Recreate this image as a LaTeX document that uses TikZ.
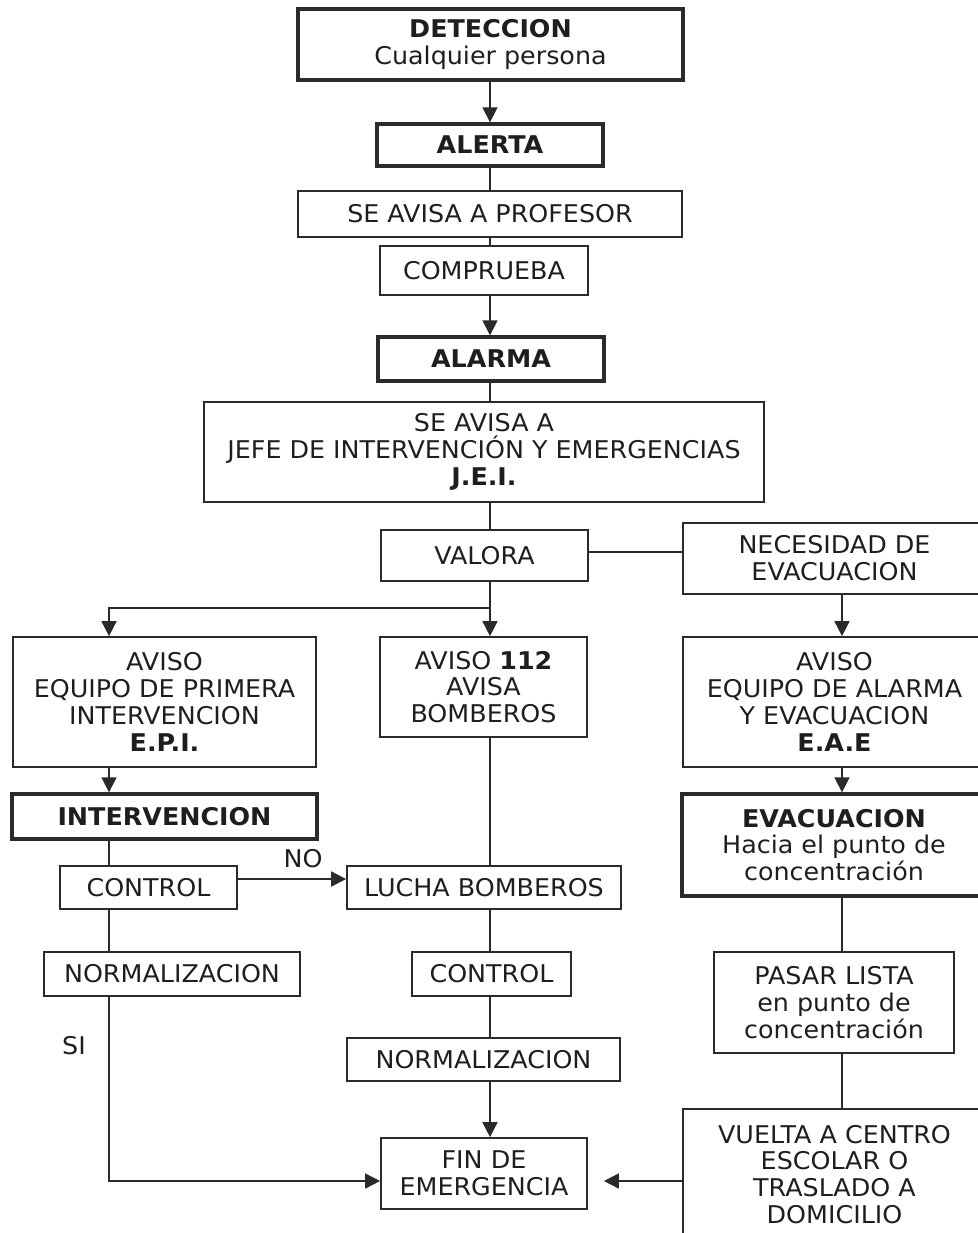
\documentclass[tikz,border=0pt]{standalone}
\usepackage{fontspec}
\setmainfont{DejaVu Sans}[FakeStretch=1.04]
\usetikzlibrary{arrows.meta}
\definecolor{ink}{HTML}{1E1E1E}
\definecolor{rule}{HTML}{2A2A2A}
\begin{document}
\begin{tikzpicture}[x=0.5pt,y=-0.5pt,
  box/.style={draw=rule, line width=0.85pt, rectangle, inner sep=0pt, align=center,
              text=ink, font=\fontsize{12.2}{13.4}\selectfont},
  keybox/.style={box, line width=1.7pt},
  link/.style={draw=rule, line width=0.85pt},
  arrow/.style={link, -{Triangle[length=7.5pt,width=7.5pt]}},
  tag/.style={text=ink, font=\fontsize{12.2}{13.4}\selectfont, inner sep=0pt}]
\useasboundingbox (0,0) rectangle (978,1233);
\clip (0,0) rectangle (978,1233);

% column guides
\coordinate (lcol) at (109,0);
\coordinate (spine) at (490,0);
\coordinate (rcol) at (842,0);
\coordinate (split) at (490,608);
\coordinate (finrow) at (0,1181);

% central chain
\node[keybox, minimum width=192.5pt, minimum height=35.5pt] (det) at (490.5,44.5)
  {\textbf{DETECCION}\\Cualquier persona};
\node[keybox, minimum width=113pt, minimum height=21pt] (alerta) at (490,145) {\textbf{ALERTA}};
\node[box, minimum width=192pt, minimum height=23pt] (prof) at (490,214) {SE AVISA A PROFESOR};
\node[box, minimum width=104pt, minimum height=24.5pt] (comp) at (484,270.5) {COMPRUEBA};
\node[keybox, minimum width=113pt, minimum height=22pt] (alarma) at (491,359) {\textbf{ALARMA}};
\node[box, minimum width=280pt, minimum height=50pt] (jei) at (484,452)
  {SE AVISA A\\JEFE DE INTERVENCIÓN Y EMERGENCIAS\\\textbf{J.E.I.}};
\node[box, minimum width=103.5pt, minimum height=25.5pt] (valora) at (484.5,555.5) {VALORA};
\node[box, minimum width=151.5pt, minimum height=35.5pt] (neces) at (834.5,558.5)
  {NECESIDAD DE\\EVACUACION};

% left column
\node[box, minimum width=151.5pt, minimum height=65pt] (epi) at (164.5,702)
  {AVISO\\EQUIPO DE PRIMERA\\INTERVENCION\\\textbf{E.P.I.}};
\node[keybox, minimum width=152.5pt, minimum height=22.5pt] (interv) at (164.5,816.5) {\textbf{INTERVENCION}};
\node[box, minimum width=88.5pt, minimum height=21.5pt] (ctrlL) at (148.5,887.5) {CONTROL};
\node[box, minimum width=128pt, minimum height=22pt] (normL) at (172,974) {NORMALIZACION};

% middle column
\node[box, minimum width=103.5pt, minimum height=50pt] (a112) at (483.5,687)
  {AVISO \textbf{112}\\AVISA\\BOMBEROS};
\node[box, minimum width=137pt, minimum height=21.5pt] (lucha) at (484,887.5) {LUCHA BOMBEROS};
\node[box, minimum width=79.5pt, minimum height=22pt] (ctrlM) at (491.5,974) {CONTROL};
\node[box, minimum width=136.5pt, minimum height=21.5pt] (normM) at (483.5,1059.5) {NORMALIZACION};
\node[box, minimum width=103pt, minimum height=35.5pt] (fin) at (484,1173.5) {FIN DE\\EMERGENCIA};

% right column
\node[box, minimum width=151.5pt, minimum height=65pt] (eae) at (834.5,702)
  {AVISO\\EQUIPO DE ALARMA\\Y EVACUACION\\\textbf{E.A.E}};
\node[keybox, minimum width=152pt, minimum height=51pt] (evac) at (834,845)
  {\textbf{EVACUACION}\\Hacia el punto de\\concentración};
\node[box, minimum width=120pt, minimum height=50.5pt] (pasar) at (834,1002.5)
  {PASAR LISTA\\en punto de\\concentración};
\node[box, minimum width=151.5pt, minimum height=65.5pt] (vuelta) at (834.5,1174.5)
  {VUELTA A CENTRO\\ESCOLAR O\\TRASLADO A\\DOMICILIO};

% labels
\node[tag] (no) at (303,859) {NO};
\node[tag] (si) at (74,1046) {SI};

% connectors: central chain
\draw[arrow] (spine |- det.south) -- (spine |- alerta.north);
\draw[link] (spine |- alerta.south) -- (spine |- prof.north);
\draw[link] (spine |- prof.south) -- (spine |- comp.north);
\draw[arrow] (spine |- comp.south) -- (spine |- alarma.north);
\draw[link] (spine |- alarma.south) -- (spine |- jei.north);
\draw[link] (spine |- jei.south) -- (spine |- valora.north);
\draw[link] ([yshift=1.75pt]valora.east) -- ([yshift=1.75pt]valora.east -| neces.west);
\draw[arrow] (spine |- valora.south) -- (spine |- a112.north);
\draw[arrow] (split) -| (lcol |- epi.north);

% connectors: left column
\draw[arrow] (lcol |- epi.south) -- (lcol |- interv.north);
\draw[link] (lcol |- interv.south) -- (lcol |- ctrlL.north);
\draw[arrow] ([yshift=4.25pt]ctrlL.east) -- ([yshift=4.25pt]ctrlL.east -| lucha.west);
\draw[link] (lcol |- ctrlL.south) -- (lcol |- normL.north);
\draw[arrow] (lcol |- normL.south) |- (fin.west |- finrow);

% connectors: middle column
\draw[link] (spine |- a112.south) -- (spine |- lucha.north);
\draw[link] (spine |- lucha.south) -- (spine |- ctrlM.north);
\draw[link] (spine |- ctrlM.south) -- (spine |- normM.north);
\draw[arrow] (spine |- normM.south) -- (spine |- fin.north);

% connectors: right column
\draw[arrow] (rcol |- neces.south) -- (rcol |- eae.north);
\draw[arrow] (rcol |- eae.south) -- (rcol |- evac.north);
\draw[link] (rcol |- evac.south) -- (rcol |- pasar.north);
\draw[link] (rcol |- pasar.south) -- (rcol |- vuelta.north);
\draw[arrow, shorten >=8pt] (vuelta.west |- finrow) -- (fin.east |- finrow);
\end{tikzpicture}
\end{document}
